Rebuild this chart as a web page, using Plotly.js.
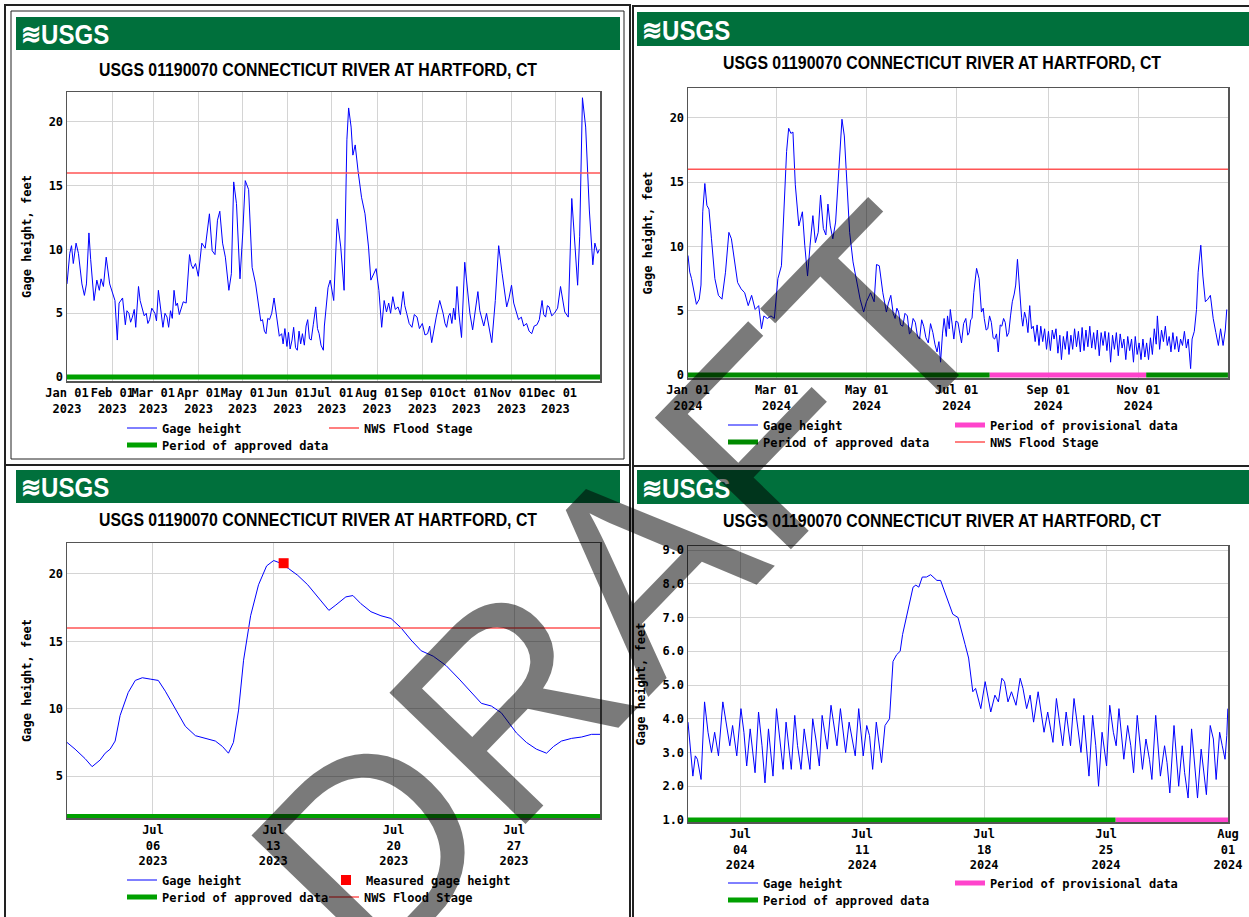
<!DOCTYPE html>
<html><head><meta charset="utf-8">
<script src="https://cdn.plot.ly/plotly-3.0.1.min.js"></script>
<style>html,body{margin:0;padding:0;background:#fff}#chart{width:1249px;height:917px}</style>
</head><body><div id="chart"></div>
<script>
// ---------------- DATA ----------------
const stationTitle = 'USGS 01190070 CONNECTICUT RIVER AT HARTFORD, CT';
const floodStage = 16;

// Panel 1: calendar year 2023 (days since 2023-01-01)
const p1Start = '2023-01-01', p1End = '2023-12-31 12:00';
const p1Day = [0,1.9,3.1,4.3,6.2,7.8,10.2,11.9,13.3,15.0,16.2,18.5,20.4,22.1,23.3,24.9,26.8,29.2,32.8,34.4,35.6,38.0,39.9,41.0,42.3,43.5,44.7,46.0,47.0,48.9,50.0,51.3,52.8,54.2,55.3,56.5,58.0,60.1,61.2,62.5,64.0,65.6,67.0,68.4,69.5,70.8,72.0,73.2,74.5,75.5,76.8,77.9,79.5,81.5,83.8,85.0,86.2,87.9,89.8,92.2,94.5,97.4,99.3,101.2,102.9,104.5,106.4,108.3,110.7,112.4,114.0,115.9,118.3,120.2,121.9,124.2,126.6,129.0,131.4,132.5,133.7,135.0,136.1,137.3,138.5,140.0,141.6,143.0,144.0,145.2,146.8,147.8,149.0,150.4,151.5,152.6,153.9,155.0,156.3,157.5,158.7,159.8,161.0,162.3,163.5,164.6,165.8,167.0,168.4,170.1,171.3,172.4,173.7,175.3,176.0,177.2,178.5,180.0,182.4,184.8,187.2,189.5,191.4,192.6,194.3,195.5,197.1,199.0,201.4,203.8,206.2,207.8,209.7,211.4,213.3,215.2,216.9,218.5,220.0,221.3,222.8,224.5,226.4,228.0,229.9,231.0,232.3,234.0,235.9,237.5,239.4,241.0,243.0,244.8,246.6,248.0,249.4,251.0,252.5,254.9,257.2,258.5,259.6,261.0,262.0,263.2,264.4,265.5,266.7,268.0,269.8,272.0,273.9,275.5,277.4,279.0,281.0,282.3,283.4,285.0,286.9,288.5,290.5,292.9,295.2,297.6,300.7,302.3,304.0,305.5,307.1,308.8,310.7,312.3,314.3,316.0,317.8,319.5,321.4,323.0,324.9,326.0,327.3,328.5,329.7,331.5,333.3,335.5,337.5,339.0,340.4,342.8,345.2,346.8,349.2,350.6,352.5,354.7,357.2,359.6,361.0,362.9,364.0];
const p1Gage = [7.3,9.7,10.3,8.9,10.5,9.7,7.3,6.4,7.3,11.3,9.2,6.0,7.6,6.8,7.7,7.1,9.4,7.3,6.0,2.9,5.8,6.2,4.1,5.2,5.0,4.3,4.7,5.3,3.9,7.1,6.0,5.5,4.8,5.0,4.2,4.5,5.4,5.0,4.4,6.8,5.2,3.9,5.0,4.7,3.9,5.2,4.6,6.8,5.6,5.8,4.9,5.4,5.9,5.8,9.6,8.8,8.5,8.9,7.9,10.5,10.1,12.8,9.9,9.6,12.3,13.0,10.5,9.4,6.8,8.1,15.3,13.6,7.7,11.3,15.4,14.7,8.6,7.3,5.2,4.4,4.5,3.6,3.4,4.6,4.5,5.0,6.2,5.1,4.5,3.2,3.4,2.6,3.8,2.4,3.5,2.2,2.9,3.9,2.3,2.1,3.6,2.6,3.4,2.5,4.0,4.5,3.0,2.9,4.1,5.5,3.8,3.4,2.5,2.1,4.0,5.8,7.0,7.6,6.0,12.4,10.2,6.8,18.6,21.1,19.6,17.4,18.2,16.2,14.1,12.8,10.2,7.6,8.1,8.5,6.8,3.9,6.0,5.1,5.8,5.0,6.3,5.3,5.5,4.9,6.7,5.6,5.0,4.2,3.9,4.9,4.7,3.8,4.2,3.3,3.4,4.0,2.7,3.8,4.7,6.0,5.0,4.2,3.9,4.8,5.0,4.2,5.4,4.5,7.1,5.0,3.1,9.0,7.1,5.0,3.7,4.9,6.7,5.2,4.7,4.0,5.0,4.1,2.7,6.0,10.3,8.1,5.5,6.2,7.2,5.8,5.2,4.5,4.7,4.0,4.2,3.6,3.4,4.0,4.1,4.5,6.0,4.9,4.7,5.6,5.5,4.8,5.0,5.4,7.1,6.0,5.1,4.7,14.0,11.3,7.2,11.0,21.9,19.6,13.1,8.8,10.5,9.7,10.0];

// Panel 2: calendar year 2024 (days since 2024-01-01)
const p2Start = '2024-01-01', p2End = '2024-12-31 20:00';
const p2Day = [0,1.2,2.4,4.0,5.7,7.6,8.8,10.0,11.4,12.8,14.2,15.9,18.2,20.6,23.0,25.4,27.7,29.4,31.3,33.6,36.0,38.4,40.8,43.1,45.5,47.9,49.8,51.4,53.8,56.2,58.5,60.9,63.3,64.9,66.8,68.2,69.7,71.1,72.7,75.1,77.5,79.1,81.0,82.7,84.6,86.3,88.2,89.8,91.7,93.4,94.8,96.4,98.1,100.0,102.4,104.3,105.9,107.6,109.5,111.8,114.2,116.6,119.0,120.9,123.7,126.1,127.7,129.6,132.0,134.4,135.8,137.4,139.0,140.3,141.5,142.7,144.0,145.5,147.0,148.6,150.0,150.9,152.5,154.0,155.5,156.9,158.3,159.7,161.2,162.8,164.3,165.9,167.3,168.7,170.0,171.1,172.4,173.5,175.0,175.8,177.0,177.7,179.0,180.1,181.5,182.9,184.2,185.3,186.7,188.2,189.5,190.5,191.5,192.4,193.6,195.5,197.2,198.8,200.0,200.7,202.0,203.1,204.3,205.5,206.7,207.8,209.0,210.2,211.5,212.6,213.8,214.9,216.1,217.3,218.5,219.7,221.0,222.0,223.2,224.9,226.0,226.8,228.0,229.1,230.3,231.5,232.7,233.9,235.2,236.5,237.8,239.0,240.3,241.6,242.9,244.2,245.5,246.8,248.0,249.3,250.6,251.9,253.0,254.3,255.6,256.9,258.1,259.4,260.6,261.9,263.2,264.5,265.8,267.0,268.3,269.6,270.9,272.2,273.5,274.8,276.0,277.3,278.6,279.9,281.2,282.5,283.8,285.0,286.3,287.6,288.9,290.2,291.5,292.8,294.1,295.3,296.6,297.9,299.2,300.5,301.8,303.0,304.3,305.6,306.9,308.2,309.5,310.7,312.0,313.3,314.6,315.9,317.2,318.0,319.5,320.8,322.1,323.4,324.7,326.0,327.2,328.5,329.8,331.1,332.4,333.7,335.0,336.3,337.6,338.9,340.5,341.5,343.0,344.5,345.6,347.4,348.8,350.5,352.2,353.9,355.8,357.6,359.3,360.8,362.5,364.0,365.0];
const p2Gage = [9.3,8.0,7.5,6.4,5.5,5.9,7.0,12.7,14.9,13.2,12.9,10.6,7.5,6.2,5.9,8.0,11.1,10.6,9.0,7.2,6.7,6.4,5.4,6.2,5.1,5.4,3.6,4.6,4.4,4.6,4.4,7.5,8.5,12.2,17.4,19.2,18.8,18.9,14.8,11.6,12.7,10.1,7.7,10.1,12.4,10.3,11.1,14.0,11.4,10.9,13.3,11.6,10.6,11.9,16.1,19.9,18.6,14.8,11.1,8.8,7.2,5.9,4.9,5.7,6.4,5.7,8.6,8.5,6.4,4.9,5.6,6.2,4.8,4.4,5.2,4.9,3.9,3.8,4.8,4.6,3.2,3.3,4.4,4.1,3.0,2.8,4.3,3.8,2.9,2.5,4.0,3.3,2.4,1.8,2.6,1.0,3.2,4.4,3.0,4.6,3.6,5.1,3.9,2.8,4.2,4.1,3.2,2.5,4.0,4.4,3.1,3.3,4.3,4.4,6.4,8.3,7.5,4.9,5.2,4.4,3.5,3.6,4.6,4.1,2.9,2.8,3.2,1.8,3.9,3.8,4.4,4.1,3.0,3.3,4.6,5.7,6.3,7.0,9.0,5.9,4.5,3.8,4.9,4.4,3.3,5.4,3.6,3.8,2.6,3.9,2.3,3.8,2.6,3.6,2.0,3.4,1.9,3.5,2.8,3.6,1.7,3.1,1.2,3.0,2.0,3.4,1.6,3.1,2.0,3.6,2.2,3.4,1.8,3.7,1.9,3.5,2.2,3.8,2.1,3.3,2.0,3.5,1.5,3.3,2.3,3.4,1.9,3.3,1.0,3.1,2.0,3.3,1.5,3.2,2.1,2.8,1.2,3.0,1.9,2.8,1.0,3.0,1.6,2.5,1.2,2.8,1.4,2.5,1.2,2.9,1.6,3.6,2.4,4.6,2.0,3.5,2.6,3.8,2.3,3.0,1.8,3.3,2.0,3.0,1.8,2.8,2.3,3.4,2.1,2.8,0.5,2.8,3.4,5.1,8.0,10.1,7.7,5.7,5.9,6.2,4.4,3.3,2.3,3.6,2.3,3.5,5.1];
// approved / provisional periods (days since 2024-01-01)
const p2ApprovedDay = [0, 204.3, null, 310.4, 365.8];
const p2ProvisionalDay = [204.3, 310.4];

// Panel 3: July 2023 (days since 2023-07-01)
const p3Start = '2023-07-01', p3End = '2023-08-01';
const p3Day = [0,0.47,1.05,1.46,1.93,2.22,2.51,2.80,3.09,3.56,3.97,4.38,4.84,5.31,5.72,6.30,6.88,7.47,8.05,8.63,9.04,9.39,9.68,9.98,10.27,10.68,11.14,11.61,12.02,12.43,12.89,13.42,14.00,14.64,15.23,15.64,16.22,16.63,17.09,17.68,18.26,18.84,19.43,20.01,20.60,21.30,22.05,22.81,23.51,24.10,24.68,25.26,25.73,26.14,26.72,27.30,27.89,28.30,28.76,29.35,29.93,30.51,31.0];
const p3Gage = [7.5,7.0,6.3,5.7,6.2,6.7,7.0,7.6,9.5,11.2,12.1,12.3,12.2,12.1,11.3,10.0,8.7,8.0,7.8,7.6,7.2,6.7,7.5,9.9,13.6,16.9,19.2,20.6,21.0,20.8,20.4,19.9,19.2,18.2,17.3,17.7,18.3,18.4,17.8,17.2,16.9,16.7,16.0,15.1,14.3,13.9,13.2,12.2,11.2,10.4,10.2,9.7,8.9,8.2,7.5,7.0,6.7,7.2,7.6,7.8,7.9,8.1,8.1];
const p3MeasuredDay = [12.6];
const p3Measured = [20.8];
const p3ApprovedLevel = 2.0;

// Panel 4: July 2024 (days since 2024-07-01)
const p4Start = '2024-07-01', p4End = '2024-08-01';
const p4Day = [0,0.14,0.28,0.42,0.54,0.75,0.95,1.15,1.35,1.53,1.75,2.00,2.20,2.40,2.56,2.80,3.04,3.21,3.37,3.57,3.85,4.05,4.25,4.42,4.62,4.88,5.08,5.26,5.46,5.63,5.93,6.13,6.29,6.49,6.67,7.00,7.16,7.34,7.54,7.70,8.00,8.21,8.41,8.55,8.75,9.05,9.25,9.46,9.60,9.80,10.06,10.26,10.42,10.60,10.81,11.11,11.31,11.57,11.77,11.98,12.18,12.32,12.52,12.72,12.92,13.08,13.25,13.45,13.69,13.93,14.09,14.29,14.50,14.70,14.94,15.20,15.50,15.71,15.91,16.11,16.27,16.35,16.51,16.67,16.81,17.06,17.22,17.38,17.62,17.82,18.02,18.17,18.37,18.57,18.83,19.07,19.23,19.44,19.64,19.84,20.10,20.30,20.44,20.65,20.95,21.15,21.35,21.51,21.71,21.96,22.16,22.36,22.56,22.72,23.02,23.23,23.41,23.57,23.77,24.03,24.21,24.42,24.58,24.74,25.02,25.24,25.42,25.58,25.79,26.09,26.29,26.49,26.63,26.85,27.12,27.36,27.50,27.66,27.90,28.17,28.37,28.51,28.71,28.91,29.11,29.25,29.46,29.62,29.76,29.98,30.16,30.32,30.52,30.67,30.83,30.93,30.99];
const p4Gage = [3.9,3.2,2.3,2.9,2.8,2.2,4.5,3.6,3.0,3.6,2.9,4.5,3.8,3.2,3.8,2.9,4.3,3.6,2.6,3.7,2.4,4.2,3.2,2.1,3.7,2.3,4.3,3.4,2.5,3.9,2.5,4.1,3.2,2.5,3.7,2.5,4.0,3.4,2.6,4.1,3.1,4.4,3.6,3.2,4.3,3.0,3.9,3.3,2.9,4.3,2.9,3.8,3.5,2.5,3.9,2.7,3.8,4.0,5.7,5.9,6.0,6.5,7.0,7.5,7.9,7.96,7.9,8.2,8.2,8.27,8.2,8.1,8.1,7.8,7.5,7.1,7.0,6.55,6.2,5.8,5.2,4.8,4.9,4.6,4.3,5.1,4.7,4.2,4.7,4.5,5.2,5.1,4.5,4.8,4.4,5.2,4.9,4.3,4.7,3.9,4.8,4.0,3.6,4.2,3.3,4.6,3.9,3.2,4.2,3.2,4.6,3.8,3.0,4.1,2.3,4.1,3.2,2.0,3.6,2.6,4.4,3.6,3.2,4.3,2.8,3.8,3.2,2.4,4.1,2.5,3.4,2.8,2.2,4.1,2.3,3.2,2.7,1.8,3.8,2.0,3.2,2.4,1.65,3.7,2.6,1.65,3.1,2.4,1.75,3.8,3.4,2.2,3.6,3.2,2.8,3.5,4.3];
const p4ApprovedDay = [0, 24.54];
const p4ProvisionalDay = [24.54, 31];

// ---------------- HELPERS ----------------
const W = 1249, H = 917;
const fx = x => x / W, fy = y => 1 - y / H;
function toDates(base, days) {
  const b = Date.parse(base + 'T00:00:00Z');
  return days.map(d => d === null ? null :
    new Date(b + d * 86400000).toISOString().slice(0, 16).replace('T', ' '));
}
const BLUE = '#0000ff', RED = '#ff5555', GREEN = '#00a000', PINK = '#ff44cc';
const mono = {family: 'DejaVu Sans Mono, monospace', size: 12, color: '#000', weight: 'bold'};

// ---------------- TRACES ----------------
const traces = [
  // panel 1
  {x: toDates(p1Start, p1Day), y: p1Gage, xaxis: 'x', yaxis: 'y', mode: 'lines', name: 'Gage height',
   line: {color: BLUE, width: 1}, legend: 'legend'},
  {x: [p1Start, p1End], y: [floodStage, floodStage], xaxis: 'x', yaxis: 'y', mode: 'lines', name: 'NWS Flood Stage',
   line: {color: RED, width: 1.5}, legend: 'legend2'},
  {x: [p1Start, p1End], y: [0, 0], xaxis: 'x', yaxis: 'y', mode: 'lines', name: 'Period of approved data',
   line: {color: GREEN, width: 5}, legend: 'legend3'},
  // panel 2
  {x: toDates(p2Start, p2Day), y: p2Gage, xaxis: 'x2', yaxis: 'y2', mode: 'lines', name: 'Gage height',
   line: {color: BLUE, width: 1}, legend: 'legend4'},
  {x: toDates(p2Start, p2ProvisionalDay), y: [0, 0], xaxis: 'x2', yaxis: 'y2', mode: 'lines', name: 'Period of provisional data',
   line: {color: PINK, width: 5}, legend: 'legend5'},
  {x: toDates(p2Start, p2ApprovedDay), y: p2ApprovedDay.map(d => d === null ? null : 0), xaxis: 'x2', yaxis: 'y2', mode: 'lines',
   name: 'Period of approved data', line: {color: '#008a00', width: 5}, legend: 'legend6'},
  {x: [p2Start, p2End], y: [floodStage, floodStage], xaxis: 'x2', yaxis: 'y2', mode: 'lines', name: 'NWS Flood Stage',
   line: {color: RED, width: 1.5}, legend: 'legend7'},
  // panel 3
  {x: toDates(p3Start, p3Day), y: p3Gage, xaxis: 'x3', yaxis: 'y3', mode: 'lines', name: 'Gage height',
   line: {color: BLUE, width: 1}, legend: 'legend8'},
  {x: toDates(p3Start, p3MeasuredDay), y: p3Measured, xaxis: 'x3', yaxis: 'y3', mode: 'markers', name: 'Measured gage height',
   marker: {color: '#ff0000', symbol: 'square', size: 10}, legend: 'legend9'},
  {x: [p3Start, p3End], y: [p3ApprovedLevel, p3ApprovedLevel], xaxis: 'x3', yaxis: 'y3', mode: 'lines', name: 'Period of approved data',
   line: {color: GREEN, width: 5}, legend: 'legend10'},
  {x: [p3Start, p3End], y: [floodStage, floodStage], xaxis: 'x3', yaxis: 'y3', mode: 'lines', name: 'NWS Flood Stage',
   line: {color: RED, width: 1.5}, legend: 'legend11'},
  // panel 4
  {x: toDates(p4Start, p4Day), y: p4Gage, xaxis: 'x4', yaxis: 'y4', mode: 'lines', name: 'Gage height',
   line: {color: BLUE, width: 1}, legend: 'legend12'},
  {x: toDates(p4Start, p4ProvisionalDay), y: [1, 1], xaxis: 'x4', yaxis: 'y4', mode: 'lines', name: 'Period of provisional data',
   line: {color: PINK, width: 5}, legend: 'legend13'},
  {x: toDates(p4Start, p4ApprovedDay), y: [1, 1], xaxis: 'x4', yaxis: 'y4', mode: 'lines', name: 'Period of approved data',
   line: {color: GREEN, width: 5}, legend: 'legend14'}
];

// ---------------- LAYOUT ----------------
function xax(dom, anchor, range, extra) {
  return Object.assign({domain: dom, anchor: anchor, type: 'date', range: range, showgrid: true, gridcolor: '#d4d4d4',
    gridwidth: 1, showline: true, mirror: true, linecolor: '#555', linewidth: 1.5, ticks: '', zeroline: false,
    tickangle: 0, tickfont: mono, fixedrange: true}, extra);
}
function yax(dom, anchor, range, extra) {
  return Object.assign({domain: dom, anchor: anchor, range: range, showgrid: true, gridcolor: '#d4d4d4', gridwidth: 1,
    showline: true, mirror: true, linecolor: '#555', linewidth: 1.5, ticks: '', zeroline: false, tickfont: mono,
    title: {text: 'Gage height, feet', font: mono, standoff: 14}, fixedrange: true}, extra);
}
// legend entries: (x of the text start, y of the row centre) in pixels
const legendSpots = [[162, 428], [364, 428], [162, 445],
                     [763, 425], [990, 425], [763, 442], [990, 442],
                     [162, 880], [366, 880], [162, 897], [364, 897],
                     [763, 883], [990, 883], [763, 900]];
function leg(xp, yp) {
  return {x: fx(xp - 40), y: fy(yp), xanchor: 'left', yanchor: 'middle', orientation: 'h', font: mono,
    bgcolor: 'rgba(0,0,0,0)', borderwidth: 0, itemclick: false, itemwidth: 30};
}

const panels = [
  {l: 5, t: 5, r: 630, b: 465, bar: [16, 17, 620, 50], title: [318, 70]},
  {l: 633, t: 6, r: 1252, b: 466, bar: [637, 12, 1249, 46], title: [942, 63]},
  {l: 5, t: 465, r: 630, b: 922, bar: [16, 470, 620, 503], title: [318, 520]},
  {l: 633, t: 466, r: 1252, b: 922, bar: [637, 470, 1249, 504], title: [942, 521]}
];
const shapes = [], annotations = [];
panels.forEach(p => {
  shapes.push({type: 'rect', xref: 'paper', yref: 'paper', x0: fx(p.l), x1: fx(p.r), y0: fy(p.b), y1: fy(p.t),
    line: {color: '#222', width: 2}, fillcolor: 'rgba(0,0,0,0)'});
  shapes.push({type: 'rect', xref: 'paper', yref: 'paper', x0: fx(p.bar[0]), x1: fx(p.bar[2]), y0: fy(p.bar[3]), y1: fy(p.bar[1]),
    line: {width: 0}, fillcolor: '#00703c'});
  annotations.push({xref: 'paper', yref: 'paper', x: fx(p.bar[0] + 3), y: fy((p.bar[1] + p.bar[3]) / 2 + 1), xanchor: 'left', yanchor: 'middle',
    text: '≋USGS', showarrow: false, font: {family: 'Liberation Sans, Arial', size: 28, color: '#fff', weight: 'bold'}});
  annotations.push({xref: 'paper', yref: 'paper', x: fx(p.title[0]), y: fy(p.title[1]), xanchor: 'center', yanchor: 'middle',
    text: stationTitle, showarrow: false, font: {family: 'Liberation Sans, Arial', size: 18, color: '#000', weight: 'bold'}});
});
// inner frame of the first panel
shapes.push({type: 'rect', xref: 'paper', yref: 'paper', x0: fx(11), x1: fx(624), y0: fy(459), y1: fy(11),
  line: {color: '#222', width: 1}, fillcolor: 'rgba(0,0,0,0)'});

// watermark
annotations.push({xref: 'paper', yref: 'paper', x: fx(621), y: fy(587), xanchor: 'center', yanchor: 'middle', text: 'DRAFT',
  showarrow: false, textangle: -46, font: {family: 'Liberation Sans, Arial', size: 275, color: 'rgba(0,0,0,0.52)'}});

const layout = {
  width: W, height: H, margin: {l: 0, r: 0, t: 0, b: 0}, paper_bgcolor: '#fff', plot_bgcolor: '#fff',
  showlegend: true, hovermode: false,
  xaxis: xax([fx(67), fx(600)], 'y', [p1Start, p1End], {dtick: 'M1', tick0: p1Start, tickformat: '%b %d<br>%Y'}),
  yaxis: yax([fy(381), fy(92)], 'x', [-0.31, 22.35], {dtick: 5}),
  xaxis2: xax([fx(688), fx(1228)], 'y2', [p2Start, p2End], {dtick: 'M2', tick0: p2Start, tickformat: '%b %d<br>%Y'}),
  yaxis2: yax([fy(378), fy(88)], 'x2', [-0.23, 22.33], {dtick: 5}),
  xaxis3: xax([fx(67), fx(600)], 'y3', [p3Start, p3End], {dtick: 7 * 86400000, tick0: '2023-07-06', tickformat: '%b<br>%d<br>%Y'}),
  yaxis3: yax([fy(818), fy(543)], 'x3', [1.89, 22.3], {dtick: 5}),
  xaxis4: xax([fx(688), fx(1228)], 'y4', [p4Start, p4End], {dtick: 7 * 86400000, tick0: '2024-07-04', tickformat: '%b<br>%d<br>%Y'}),
  yaxis4: yax([fy(822), fy(546)], 'x4', [0.94, 9.12], {dtick: 1, tickformat: '.1f'}),
  shapes: shapes, annotations: annotations
};
legendSpots.forEach((s, i) => { layout[i === 0 ? 'legend' : 'legend' + (i + 1)] = leg(s[0], s[1]); });

Plotly.newPlot('chart', traces, layout, {staticPlot: true, displayModeBar: false}).then(() => {
  // condense the narrow header lettering (title and logo) horizontally
  document.querySelectorAll('g.annotation text.annotation-text').forEach(t => {
    const s = t.textContent;
    let sx = null, centred = false;
    if (s === stationTitle) { sx = 0.88; centred = true; }
    else if (s.indexOf('USGS') === 1) { sx = 0.86; }
    if (sx) {
      const bb = t.getBBox();
      const cx = centred ? bb.x + bb.width / 2 : bb.x;
      const prev = t.getAttribute('transform') || '';
      t.setAttribute('transform', prev + ` translate(${cx},0) scale(${sx},1) translate(${-cx},0)`);
    }
  });
});
</script></body></html>
